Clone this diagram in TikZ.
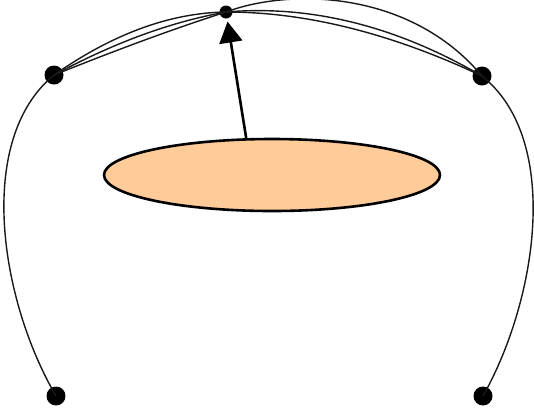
\documentclass[tikz,border=0pt]{standalone}
\usetikzlibrary{shapes.geometric,arrows.meta}
\definecolor{peach}{RGB}{255,204,153}
\begin{document}
\begin{tikzpicture}[x=1pt,y=-1pt,
 bigdot/.style={circle,fill=black,inner sep=0pt,minimum size=19pt},
 smalldot/.style={circle,fill=black,inner sep=0pt,minimum size=13pt},
 curve/.style={line width=1.4pt,black!90},
 blob/.style={ellipse,draw=black,line width=2.6pt,fill=peach,minimum width=336pt,minimum height=72pt,inner sep=0pt},
 pointer/.style={line width=2.6pt,-{Triangle[length=21pt,width=23pt]},shorten >=3pt}]
\useasboundingbox (0,0) rectangle (534,416);
\node[smalldot] (T) at (226,12) {};
\node[bigdot] (L) at (54,75) {};
\node[bigdot] (R) at (482,76) {};
\node[bigdot] (BL) at (56,396) {};
\node[bigdot] (BR) at (483,396) {};
\node[blob] (E) at (272,175) {};
% top left curves
\draw[curve] (L.center) .. controls (112,34.5) and (169,12.9) .. (T.center);
\draw[curve] (L.center) .. controls (112,43.8) and (169,22.2) .. (T.center);
\draw[curve] (L.center) .. controls (112,51.8) and (169,30.2) .. (T.center);
% top right curves
\draw[curve] (T.center) .. controls (290,-12) and (410,-10) .. (R.center);
\draw[curve] (T.center) .. controls (311,4.7) and (397,26.3) .. (R.center);
\draw[curve] (T.center) .. controls (311,12) and (397,36) .. (R.center);
% side curves
\draw[curve] (L.center) .. controls (-25,140) and (0,300) .. (BL.center);
\draw[curve] (R.center) .. controls (562,140) and (537,300) .. (BR.center);
% arrow
\draw[pointer] (E.125) -- (T);
\end{tikzpicture}
\end{document}
